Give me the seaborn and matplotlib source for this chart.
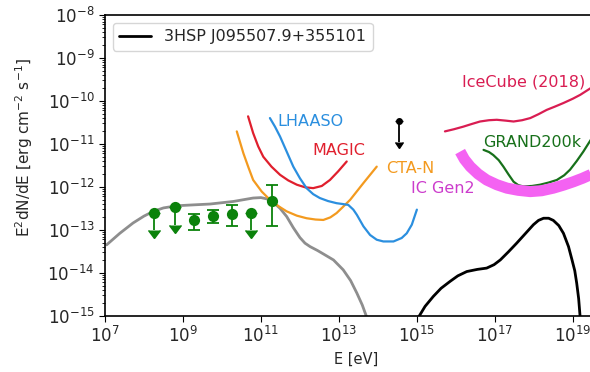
import numpy as np
import pandas as pd
import matplotlib
matplotlib.use("Agg")
import matplotlib.pyplot as plt
import matplotlib.ticker as mticker
import seaborn as sns

# ---- data (log10 of energy in eV, log10 of E^2 dN/dE in erg cm^-2 s^-1) ----
# SSC model of the blazar (gamma rays)
model_logE = [7.04, 7.38, 7.72, 8.00, 8.24, 8.50, 8.84, 9.25, 9.69, 10.29, 10.80, 11.00, 11.15,
              11.32, 11.49, 11.66, 11.83, 12.00, 12.13, 12.26, 12.45, 12.60, 12.86, 13.11, 13.30,
              13.46, 13.60, 13.72]
model_logF = [-13.35, -13.08, -12.84, -12.68, -12.57, -12.49, -12.44, -12.42, -12.40, -12.34, -12.26,
              -12.25, -12.28, -12.36, -12.50, -12.69, -12.95, -13.18, -13.31, -13.39, -13.48,
              -13.56, -13.70, -13.93, -14.18, -14.47, -14.75, -15.05]

# neutrino spectrum of 3HSP J095507.9+355101
nu_logE = [15.03, 15.21, 15.42, 15.62, 15.85, 16.05, 16.28, 16.55, 16.79, 16.98, 17.14, 17.35,
           17.56, 17.78, 17.99, 18.12, 18.25, 18.38, 18.50, 18.64, 18.76, 18.89, 18.98, 19.05,
           19.10, 19.15, 19.19]
nu_logF = [-15.05, -14.78, -14.55, -14.36, -14.20, -14.07, -13.97, -13.92, -13.89, -13.81, -13.70,
           -13.51, -13.31, -13.09, -12.88, -12.78, -12.73, -12.73, -12.78, -12.90, -13.08, -13.39,
           -13.70, -13.95, -14.24, -14.60, -15.05]

# Fermi-LAT points: energies, fluxes, lower/upper bounds, upper-limit flags
fermi_logE = [8.25, 8.79, 9.29, 9.78, 10.26, 10.74, 11.28]
fermi_logF = [-12.60, -12.48, -12.78, -12.67, -12.63, -12.60, -12.32]
fermi_logLo = [-13.00, -12.88, -13.00, -12.84, -12.92, -13.00, -12.90]
fermi_logHi = [-12.60, -12.48, -12.64, -12.55, -12.42, -12.60, -11.95]
fermi_ul = [True, True, False, False, False, True, False]

# neutrino flux upper limit from the IceCube alert
alert_logE = [14.54]
alert_logF = [-10.46]
alert_logLo = [-10.95]

# instrument sensitivities
magic_logE = [10.67, 10.80, 10.93, 11.06, 11.27, 11.49, 11.70, 11.92, 12.13, 12.34, 12.56,
              12.77, 12.98, 13.20]
magic_logF = [-10.36, -10.75, -11.06, -11.30, -11.53, -11.72, -11.85, -11.95, -12.01, -12.03,
              -11.98, -11.84, -11.64, -11.41]

cta_logE = [10.38, 10.55, 10.68, 10.80, 11.02, 11.23, 11.45, 11.66, 11.92, 12.17, 12.40, 12.60,
            12.78, 12.94, 13.10, 13.29, 13.63, 13.97]
cta_logF = [-10.71, -11.22, -11.55, -11.84, -12.11, -12.30, -12.45, -12.57, -12.67, -12.73,
            -12.76, -12.77, -12.71, -12.61, -12.47, -12.30, -11.91, -11.53]

lhaaso_logE = [11.23, 11.36, 11.49, 11.66, 11.83, 12.00, 12.17, 12.34, 12.51, 12.72, 12.94, 13.10,
               13.24, 13.37, 13.46, 13.63, 13.80, 13.97, 14.14, 14.40, 14.61, 14.74, 14.87, 15.00]
lhaaso_logF = [-10.40, -10.60, -10.83, -11.18, -11.53, -11.80, -12.03, -12.17, -12.26, -12.33,
               -12.38, -12.40, -12.42, -12.53, -12.65, -12.92, -13.12, -13.23, -13.27, -13.27,
               -13.19, -13.08, -12.88, -12.53]

icecube_logE = [15.72, 15.95, 16.19, 16.40, 16.62, 16.85, 17.05, 17.28, 17.48, 17.70, 17.91,
                18.12, 18.33, 18.55, 18.76, 19.00, 19.19, 19.50]
icecube_logF = [-10.71, -10.66, -10.60, -10.54, -10.48, -10.45, -10.44, -10.46, -10.48, -10.45,
                -10.40, -10.31, -10.21, -10.13, -10.05, -9.95, -9.86, -9.68]

grand_logE = [16.71, 16.85, 16.96, 17.10, 17.22, 17.35, 17.48, 17.60, 17.73, 17.95, 18.16,
              18.38, 18.59, 18.78, 18.93, 19.10, 19.27, 19.50]
grand_logF = [-11.14, -11.19, -11.26, -11.38, -11.53, -11.71, -11.88, -11.96, -11.99, -11.98,
              -11.95, -11.90, -11.84, -11.73, -11.60, -11.40, -11.18, -10.85]

gen2_logE = [16.11, 16.22, 16.37, 16.57, 16.79, 17.05, 17.31, 17.60, 17.91, 18.20, 18.50,
             18.76, 19.02, 19.25, 19.50]
gen2_logF = [-11.18, -11.36, -11.53, -11.70, -11.84, -11.95, -12.03, -12.08, -12.11, -12.09,
             -12.03, -11.96, -11.88, -11.80, -11.70]

x_ticks = [1e7, 1e9, 1e11, 1e13, 1e15, 1e17, 1e19]


def frame(logE, logF):
    return pd.DataFrame({"E": np.power(10.0, logE), "F": np.power(10.0, logF)})


sns.set_style("ticks")
plt.rcParams["font.family"] = ["DejaVu Sans"]
plt.rcParams["font.size"] = 10

fig = plt.figure(figsize=(5.9, 3.72), dpi=100)
ax = fig.add_axes([0.178, 0.151, 0.851, 0.809])
ax.set_xscale("log")
ax.set_yscale("log")

c_lhaaso = "#2b8fdf"
c_magic = "#e01f2d"
c_cta = "#f39a1f"
c_gen2 = "#f462f2"
c_gen2_txt = "#cc3ccc"
c_icecube = "#d91d52"
c_grand = "#17701a"
c_fermi = "#0b820b"

common = dict(ax=ax, sort=False, estimator=None)

sns.lineplot(data=frame(model_logE, model_logF), x="E", y="F", color="#8e8e8e", lw=2, **common)
sns.lineplot(data=frame(nu_logE, nu_logF), x="E", y="F", color="black", lw=2,
             label="3HSP J095507.9+355101", **common)
sns.lineplot(data=frame(magic_logE, magic_logF), x="E", y="F", color=c_magic, lw=1.6, **common)
sns.lineplot(data=frame(cta_logE, cta_logF), x="E", y="F", color=c_cta, lw=1.6, **common)
sns.lineplot(data=frame(lhaaso_logE, lhaaso_logF), x="E", y="F", color=c_lhaaso, lw=1.6, **common)
sns.lineplot(data=frame(icecube_logE, icecube_logF), x="E", y="F", color=c_icecube, lw=1.6, **common)
sns.lineplot(data=frame(grand_logE, grand_logF), x="E", y="F", color=c_grand, lw=1.6, **common)
sns.lineplot(data=frame(gen2_logE, gen2_logF), x="E", y="F", color=c_gen2, lw=8,
             solid_capstyle="butt", solid_joinstyle="round", **common)

# Fermi-LAT points with error bars and upper-limit arrows
fE = np.power(10.0, fermi_logE)
fF = np.power(10.0, fermi_logF)
fLo = np.power(10.0, fermi_logLo)
fHi = np.power(10.0, fermi_logHi)
ul = np.array(fermi_ul)
det = ~ul
ax.errorbar(fE[det], fF[det], yerr=[fF[det] - fLo[det], fHi[det] - fF[det]],
            fmt="none", color=c_fermi, ecolor=c_fermi, elinewidth=1.3, capsize=4,
            capthick=1.3, zorder=3)
ax.errorbar(fE[ul], fF[ul], yerr=[fF[ul] - fLo[ul], np.zeros(ul.sum())], uplims=True,
            fmt="none", color=c_fermi, ecolor=c_fermi, elinewidth=1.3, capsize=4, zorder=3)
sns.scatterplot(x=fE, y=fF, ax=ax, color=c_fermi, s=65, edgecolor=c_fermi, linewidth=0, zorder=4)

# IceCube alert upper limit
aE = np.power(10.0, alert_logE)
aF = np.power(10.0, alert_logF)
aLo = np.power(10.0, alert_logLo)
ax.errorbar(aE, aF, yerr=[aF - aLo, np.zeros(1)], uplims=True, fmt="o", ms=4,
            color="black", ecolor="black", elinewidth=1.3, capsize=3, zorder=4)

# instrument labels
lab = dict(fontsize=11.5, ha="left", va="center")
ax.text(10**11.41, 10**-10.47, "LHAASO", color=c_lhaaso, **lab)
ax.text(10**12.32, 10**-11.16, "MAGIC", color=c_magic, **lab)
ax.text(10**14.22, 10**-11.58, "CTA-N", color=c_cta, **lab)
ax.text(10**14.85, 10**-12.05, "IC Gen2", color=c_gen2_txt, **lab)
ax.text(10**16.16, 10**-9.57, "IceCube (2018)", color=c_icecube, **lab)
ax.text(10**16.71, 10**-10.98, "GRAND200k", color=c_grand, **lab)

ax.set_xlim(1e7, 10**19.88)
ax.set_ylim(1e-15, 1e-8)
ax.xaxis.set_major_locator(mticker.FixedLocator(x_ticks))
ax.xaxis.set_major_formatter(mticker.LogFormatterSciNotation())
ax.xaxis.set_minor_locator(mticker.NullLocator())
ax.yaxis.set_major_locator(mticker.LogLocator(base=10, numticks=20))
ax.yaxis.set_minor_locator(mticker.LogLocator(base=10, subs=np.arange(2, 10), numticks=20))
ax.yaxis.set_minor_formatter(mticker.NullFormatter())
ax.tick_params(axis="both", which="major", labelsize=12, length=4, color="black")
ax.tick_params(axis="y", which="minor", length=2, color="black")
for s in ax.spines.values():
    s.set_color("black")
    s.set_linewidth(1.2)

ax.set_xlabel("E [eV]", fontsize=10.5)
ax.set_ylabel(r"E$^2$dN/dE [erg cm$^{-2}$ s$^{-1}$]", fontsize=11)
ax.yaxis.set_label_coords(-0.14, 0.56)

leg = ax.legend(loc="upper left", fontsize=11.5, frameon=True, borderaxespad=0.5)
leg.get_frame().set_edgecolor("#cccccc")

fig.savefig("out.png", dpi=100)
